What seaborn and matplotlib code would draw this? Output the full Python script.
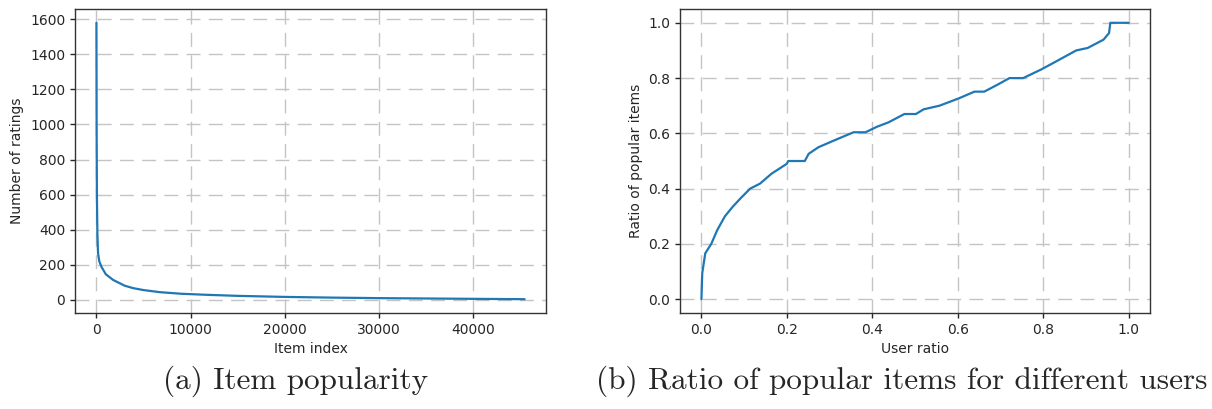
import numpy as np
import pandas as pd
import matplotlib
matplotlib.use("Agg")
import matplotlib.pyplot as plt
import seaborn as sns

# ---- data ----
item_index = [0, 20, 50, 100, 170, 300, 530, 1000, 1770, 3000, 3900, 5000,
              6740, 9000, 11700, 15000, 20000, 25000, 30000, 35000, 40000, 45470]
num_ratings = [1580, 1000, 600, 380, 266, 220, 188, 145, 113, 80, 66, 55,
               43, 34, 28, 22, 16, 12, 9, 7, 5, 3]

user_ratio = [0.0, 0.002, 0.009, 0.023, 0.037, 0.055, 0.073, 0.091, 0.114, 0.137,
              0.164, 0.200, 0.203, 0.242, 0.251, 0.274, 0.310, 0.356, 0.384, 0.411,
              0.438, 0.475, 0.502, 0.520, 0.557, 0.603, 0.639, 0.662, 0.694, 0.721,
              0.753, 0.795, 0.831, 0.877, 0.904, 0.941, 0.954, 0.957, 1.0]
popular_ratio = [0.0, 0.095, 0.166, 0.200, 0.250, 0.300, 0.334, 0.364, 0.400, 0.418,
                 0.454, 0.490, 0.500, 0.500, 0.526, 0.550, 0.574, 0.604, 0.604, 0.624,
                 0.640, 0.670, 0.670, 0.687, 0.700, 0.727, 0.751, 0.751, 0.777, 0.800,
                 0.800, 0.831, 0.861, 0.900, 0.909, 0.939, 0.963, 1.0, 1.0]

xticks_a = [0, 10000, 20000, 30000, 40000]
yticks_a = [0, 200, 400, 600, 800, 1000, 1200, 1400, 1600]
ticks_b = [0.0, 0.2, 0.4, 0.6, 0.8, 1.0]

captions = ["(a) Item popularity", "(b) Ratio of popular items for different users"]

df_a = pd.DataFrame({"Item index": item_index, "Number of ratings": num_ratings})
df_b = pd.DataFrame({"User ratio": user_ratio, "Ratio of popular items": popular_ratio})

sns.set_style("whitegrid", {
    "grid.color": "#c4c4c4",
    "grid.linestyle": (0, (10, 6)),
    "axes.edgecolor": "#333333",
    "xtick.bottom": True,
    "ytick.left": True,
    "xtick.color": "#262626",
    "ytick.color": "#262626",
})
plt.rcParams["font.family"] = ["DejaVu Sans"]
plt.rcParams["xtick.major.size"] = 3.5
plt.rcParams["ytick.major.size"] = 3.5
plt.rcParams["xtick.major.width"] = 1.0
plt.rcParams["ytick.major.width"] = 1.0

fig = plt.figure(figsize=(12.12, 4.09), dpi=100)
ax1 = fig.add_axes([0.0619, 0.2347, 0.3886, 0.7433])
ax2 = fig.add_axes([0.5611, 0.2347, 0.3878, 0.7433])

line_color = "#1f77b4"
sns.lineplot(data=df_a, x="Item index", y="Number of ratings", ax=ax1,
             color=line_color, linewidth=1.6, sort=False, estimator=None)
sns.lineplot(data=df_b, x="User ratio", y="Ratio of popular items", ax=ax2,
             color=line_color, linewidth=1.6, sort=False, estimator=None)

ax1.set_xticks(xticks_a)
ax1.set_yticks(yticks_a)
ax2.set_xticks(ticks_b)
ax2.set_yticks(ticks_b)
ax2.set_xticklabels([f"{t:.1f}" for t in ticks_b])
ax2.set_yticklabels([f"{t:.1f}" for t in ticks_b])

for ax in (ax1, ax2):
    ax.margins(x=0.05, y=0.05)
    ax.tick_params(labelsize=10, pad=3.5)
    ax.xaxis.label.set_size(10)
    ax.yaxis.label.set_size(10)
    ax.grid(True, linewidth=1.0)
    for s in ax.spines.values():
        s.set_linewidth(1.0)
        s.set_color("#333333")

fig.text(0.2440, 0.068, captions[0], ha="center", va="center",
         fontsize=22.5, family=["cmr10", "DejaVu Serif"])
fig.text(0.7440, 0.068, captions[1], ha="center", va="center",
         fontsize=22.5, family=["cmr10", "DejaVu Serif"])

fig.savefig("out.png", dpi=100)
